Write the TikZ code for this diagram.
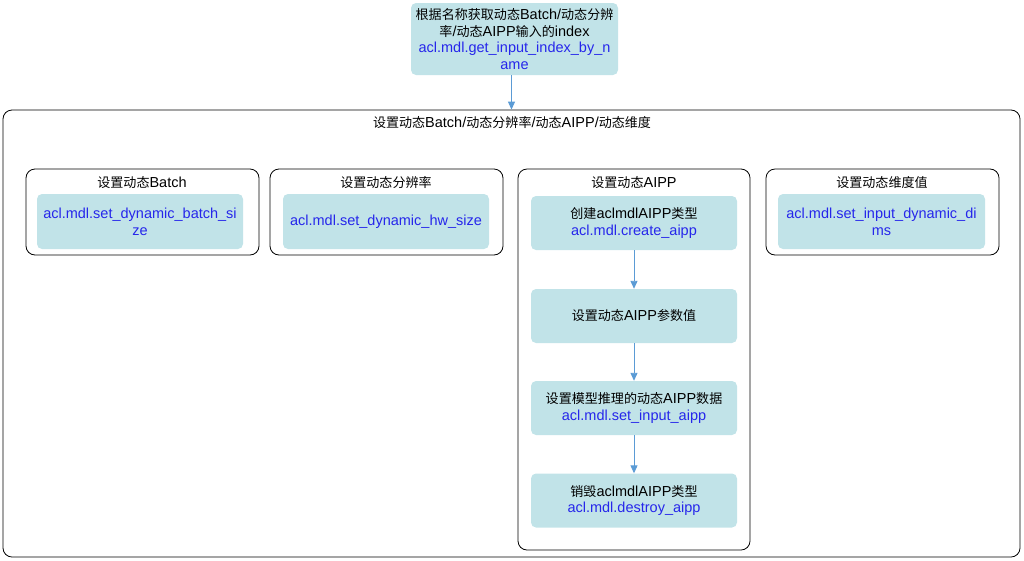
\documentclass[tikz,border=0pt]{standalone}
\usepackage{fontspec}
\setmainfont{Liberation Sans}
\newfontfamily\cjk[Scale=0.9]{Noto Sans CJK SC}
\usetikzlibrary{arrows.meta}
\definecolor{tealfill}{RGB}{193,227,232}
\definecolor{apiblue}{RGB}{38,38,235}
\definecolor{arrowblue}{RGB}{91,155,213}
\newcommand{\zh}[1]{{\cjk #1}}
\newcommand{\api}[1]{{\color{apiblue}#1}}
\tikzset{
  txt/.style={font=\fontsize{14.5}{16.8}\selectfont, align=center, inner sep=0pt},
  tealbox/.style={txt, fill=tealfill, rounded corners=5pt, minimum width=206pt, minimum height=55pt},
  groupbox/.style={draw=black, line width=0.8pt, rounded corners=9pt, minimum width=233pt, minimum height=86pt, inner sep=0pt},
  flow/.style={draw=arrowblue, line width=0.9pt, -{Triangle[width=7pt,length=8pt]}},
}
\begin{document}
\begin{tikzpicture}[x=1pt,y=-1pt]
\useasboundingbox (0,0) rectangle (1024,560);
% top node
\node[tealbox, minimum width=207pt, minimum height=72pt] (top) at (514.5,39)
  {\zh{根据名称获取动态}Batch/\zh{动态分辨}\\ \zh{率}/\zh{动态}AIPP\zh{输入的}index\\ \api{acl.mdl.get\_input\_index\_by\_n}\\ \api{ame}};
% outer container
\node[groupbox, rounded corners=9pt, minimum width=1017pt, minimum height=447pt] (outer) at (511.5,333.5) {};
\node[txt] (outertitle) at (512,122.5) {\zh{设置动态}Batch/\zh{动态分辨率}/\zh{动态}AIPP/\zh{动态维度}};
\draw[flow] (outer.north |- top.south) -- (outer.north);
% group 1
\node[groupbox] (g1) at (142.5,212) {};
\node[txt] (g1t) at (142,182.5) {\zh{设置动态}Batch};
\node[tealbox] (b1) at (140,221.5) {\api{acl.mdl.set\_dynamic\_batch\_si}\\ \api{ze}};
% group 2
\node[groupbox] (g2) at (386.5,212) {};
\node[txt] (g2t) at (386,182.5) {\zh{设置动态分辨率}};
\node[tealbox] (b2) at (386,221.5) {\api{acl.mdl.set\_dynamic\_hw\_size}};
% group 3
\node[groupbox, minimum width=232pt, minimum height=381pt] (g3) at (634,359.5) {};
\node[txt] (g3t) at (634,182.5) {\zh{设置动态}AIPP};
\node[tealbox, minimum height=54pt] (c1) at (634,223) {\zh{创建}aclmdlAIPP\zh{类型}\\ \api{acl.mdl.create\_aipp}};
\node[tealbox, minimum height=54pt] (c2) at (634,316) {\zh{设置动态}AIPP\zh{参数值}};
\node[tealbox, minimum height=54pt] (c3) at (634,408) {\zh{设置模型推理的动态}AIPP\zh{数据}\\ \api{acl.mdl.set\_input\_aipp}};
\node[tealbox, minimum height=54pt] (c4) at (634,500.5) {\zh{销毁}aclmdlAIPP\zh{类型}\\ \api{acl.mdl.destroy\_aipp}};
\draw[flow] (c1) -- (c2);
\draw[flow] (c2) -- (c3);
\draw[flow] (c3) -- (c4);
% group 4
\node[groupbox] (g4) at (882.5,212) {};
\node[txt] (g4t) at (882,182.5) {\zh{设置动态维度值}};
\node[tealbox, minimum width=207pt] (b4) at (881.5,221.5) {\api{acl.mdl.set\_input\_dynamic\_di}\\ \api{ms}};
\end{tikzpicture}
\end{document}
